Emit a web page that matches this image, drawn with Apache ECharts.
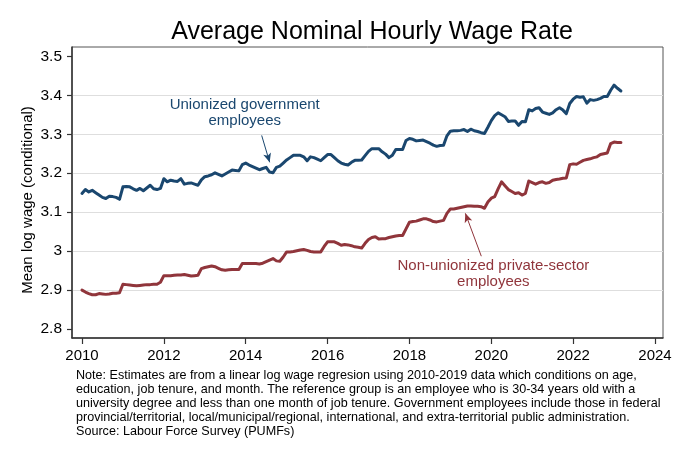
<!DOCTYPE html>
<html>
<head>
<meta charset="utf-8">
<script src="https://cdn.jsdelivr.net/npm/echarts@6/dist/echarts.min.js"></script>
<style>
html,body{margin:0;padding:0;background:#fff;}
#chart{width:680px;height:453px;}
</style>
</head>
<body>
<div id="chart"></div>
<script>
// ---- data ----
var startYear = 2010; // monthly data, first month = Jan 2010
var xTicks = [2010, 2012, 2014, 2016, 2018, 2020, 2022, 2024];
var yTicks = [2.8, 2.9, 3.0, 3.1, 3.2, 3.3, 3.4, 3.5];

var unionGov = [
  3.148, 3.158, 3.152, 3.156, 3.150, 3.144, 3.138, 3.135, 3.141, 3.140, 3.138, 3.133,
  3.165, 3.166, 3.165, 3.160, 3.156, 3.161, 3.155, 3.162, 3.169, 3.160, 3.158, 3.161,
  3.186, 3.178, 3.182, 3.180, 3.179, 3.186, 3.172, 3.174, 3.175, 3.172, 3.169, 3.183,
  3.191, 3.193, 3.196, 3.201, 3.197, 3.193, 3.198, 3.203, 3.208, 3.207, 3.206, 3.222,
  3.226, 3.221, 3.217, 3.213, 3.209, 3.212, 3.215, 3.203, 3.201, 3.215, 3.218, 3.226,
  3.234, 3.240, 3.246, 3.246, 3.246, 3.242, 3.232, 3.242, 3.240, 3.236, 3.232, 3.240,
  3.248, 3.248, 3.240, 3.232, 3.226, 3.223, 3.221, 3.228, 3.233, 3.233, 3.234, 3.245,
  3.256, 3.263, 3.263, 3.263, 3.255, 3.249, 3.240, 3.246, 3.261, 3.261, 3.261, 3.284,
  3.289, 3.287, 3.283, 3.284, 3.285, 3.281, 3.277, 3.272, 3.269, 3.271, 3.272, 3.296,
  3.308, 3.309, 3.309, 3.310, 3.312, 3.307, 3.313, 3.309, 3.307, 3.304, 3.302, 3.318,
  3.335, 3.348, 3.355, 3.350, 3.345, 3.333, 3.334, 3.334, 3.323, 3.333, 3.332, 3.363,
  3.360, 3.366, 3.368, 3.357, 3.354, 3.351, 3.355, 3.363, 3.368, 3.362, 3.353, 3.379,
  3.390, 3.397, 3.395, 3.396, 3.380, 3.389, 3.387, 3.389, 3.392, 3.397, 3.397, 3.413,
  3.426, 3.418, 3.411
];

var nonUnionPrivate = [
  2.900, 2.895, 2.891, 2.888, 2.888, 2.891, 2.890, 2.889, 2.890, 2.892, 2.892, 2.893,
  2.915, 2.914, 2.913, 2.912, 2.911, 2.912, 2.913, 2.914, 2.914, 2.915, 2.915, 2.920,
  2.937, 2.937, 2.937, 2.938, 2.939, 2.939, 2.940, 2.938, 2.936, 2.937, 2.938, 2.955,
  2.958, 2.960, 2.962, 2.960, 2.956, 2.952, 2.951, 2.952, 2.953, 2.953, 2.953, 2.968,
  2.968, 2.968, 2.968, 2.968, 2.967, 2.969, 2.973, 2.977, 2.981, 2.975, 2.974, 2.985,
  2.998, 2.998, 2.999, 3.001, 3.003, 3.004, 3.002, 2.999, 2.998, 2.998, 2.998, 3.012,
  3.024, 3.024, 3.024, 3.020, 3.015, 3.017, 3.016, 3.014, 3.011, 3.010, 3.008, 3.020,
  3.030, 3.035, 3.037, 3.031, 3.032, 3.032, 3.035, 3.037, 3.039, 3.040, 3.040, 3.057,
  3.074, 3.076, 3.077, 3.080, 3.083, 3.083, 3.080, 3.076, 3.075, 3.077, 3.079, 3.097,
  3.108, 3.108, 3.110, 3.112, 3.114, 3.116, 3.116, 3.115, 3.115, 3.114, 3.110, 3.126,
  3.136, 3.140, 3.160, 3.178, 3.168, 3.158, 3.153, 3.148, 3.150, 3.144, 3.148, 3.180,
  3.176, 3.172, 3.176, 3.178, 3.174, 3.176, 3.182, 3.184, 3.185, 3.187, 3.188, 3.222,
  3.224, 3.223, 3.228, 3.233, 3.235, 3.237, 3.240, 3.242, 3.248, 3.250, 3.252, 3.276,
  3.280, 3.279, 3.279
];

var titleText = 'Average Nominal Hourly Wage Rate';
var yAxisTitle = 'Mean log wage (conditional)';
var govLabel = 'Unionized government\nemployees';
var privLabel = 'Non-unionized private-sector\nemployees';
var noteText = 'Note: Estimates are from a linear log wage regresion using 2010-2019 data which conditions on age,\n' +
  'education, job tenure, and month. The reference group is an employee who is 30-34 years old with a\n' +
  'university degree and less than one month of job tenure. Government employees include those in federal\n' +
  'provincial/territorial, local/municipal/regional, international, and extra-territorial public administration.\n' +
  'Source: Labour Force Survey (PUMFs)';

// annotation anchors in data space [year, value]
var govArrow = [[2014.39, 3.297], [2014.585, 3.228]];
var govTextAt = [2013.976, 3.395];   // top-centre of label block
var privArrow = [[2019.756, 2.987], [2019.366, 3.097]];
var privTextAt = [2020.05, 2.982];   // top-centre of label block

// ---- build ----
function toPairs(vals) {
  return vals.map(function (v, i) { return [startYear + i / 12, v]; });
}

var BLUE = '#1a476f';
var RED = '#90353b';
var FONT = 'Liberation Sans, Arial, sans-serif';

var chart = echarts.init(document.getElementById('chart'), null, {renderer: 'canvas'});

var option = {
  animation: false,
  backgroundColor: '#fff',
  title: {
    text: titleText,
    left: 367, top: 15, textAlign: 'center',
    textStyle: {fontFamily: FONT, fontSize: 25, fontWeight: 'normal', color: '#000'}
  },
  grid: {
    left: 72, right: 17, top: 47, bottom: 115,
    show: true, borderColor: '#555', borderWidth: 1, backgroundColor: '#fff'
  },
  xAxis: {
    type: 'value', min: 2009.756, max: 2024.195,
    axisLine: {show: true, onZero: false, lineStyle: {color: '#333', width: 1.5}},
    axisTick: {show: true, length: 6, customValues: xTicks, lineStyle: {color: '#333', width: 1.2}},
    axisLabel: {show: true, customValues: xTicks, margin: 10, fontFamily: FONT, fontSize: 15, color: '#000',
      formatter: function (v) { return String(Math.round(v)); }},
    splitLine: {show: false}
  },
  yAxis: {
    type: 'value', min: 2.777, max: 3.524,
    axisLine: {show: true, onZero: false, lineStyle: {color: '#333', width: 1.5}},
    axisTick: {show: true, length: 5, customValues: yTicks, lineStyle: {color: '#333', width: 1.2}},
    axisLabel: {show: true, customValues: yTicks, margin: 10, fontFamily: FONT, fontSize: 15.5, color: '#000',
      formatter: function (v) { var r = Math.round(v * 10) / 10; return r === 3 ? '3' : r.toFixed(1); }},
    splitLine: {show: true, showMinLine: false, showMaxLine: false,
      lineStyle: {color: '#dedede', width: 1.2}}
  },
  series: [
    {
      name: 'Unionized government employees', type: 'line', data: toPairs(unionGov),
      showSymbol: false, symbol: 'none', z: 3,
      lineStyle: {color: BLUE, width: 3, cap: 'round', join: 'round'},
      markLine: {
        z: 4, silent: true, symbol: ['none', 'arrow'], symbolSize: [6, 9], label: {show: false},
        lineStyle: {color: BLUE, width: 1, type: 'solid'},
        data: [[{coord: govArrow[0]}, {coord: govArrow[1]}]]
      }
    },
    {
      name: 'Non-unionized private-sector employees', type: 'line', data: toPairs(nonUnionPrivate),
      showSymbol: false, symbol: 'none', z: 3,
      lineStyle: {color: RED, width: 3, cap: 'round', join: 'round'},
      markLine: {
        z: 4, silent: true, symbol: ['none', 'arrow'], symbolSize: [6, 9], label: {show: false},
        lineStyle: {color: RED, width: 1, type: 'solid'},
        data: [[{coord: privArrow[0]}, {coord: privArrow[1]}]]
      }
    }
  ]
};
chart.setOption(option);

var gp = chart.convertToPixel({gridIndex: 0}, govTextAt);
var pp = chart.convertToPixel({gridIndex: 0}, privTextAt);
chart.setOption({
  graphic: [
    {type: 'text', x: 28, y: 200, rotation: Math.PI / 2, z: 10,
      style: {text: yAxisTitle, fill: '#000', font: '15px ' + FONT, align: 'center', verticalAlign: 'middle'}},
    {type: 'text', x: gp[0], y: gp[1], z: 10,
      style: {text: govLabel, fill: BLUE, font: '15px ' + FONT, align: 'center', verticalAlign: 'top', lineHeight: 16}},
    {type: 'text', x: pp[0], y: pp[1], z: 10,
      style: {text: privLabel, fill: RED, font: '15px ' + FONT, align: 'center', verticalAlign: 'top', lineHeight: 16}},
    {type: 'text', left: 76, top: 369, z: 10,
      style: {text: noteText, fill: '#000', font: '12.6px ' + FONT, lineHeight: 14}}
  ]
});
</script>
</body>
</html>
